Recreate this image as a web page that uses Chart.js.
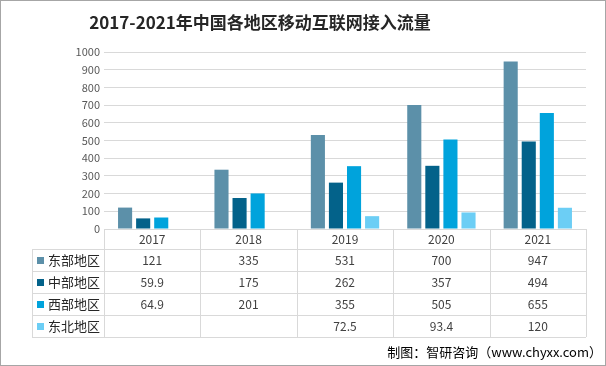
<!DOCTYPE html>
<html>
<head>
<meta charset="utf-8">
<script src="https://cdn.jsdelivr.net/npm/chart.js@4"></script>
<style>
  html, body { margin: 0; padding: 0; background: #fff; }
  #wrap { width: 606px; height: 366px; position: relative; }
</style>
</head>
<body>
<div id="wrap"><canvas id="chart" width="606" height="366"></canvas></div>
<script>
    // Data
    const years = ['2017', '2018', '2019', '2020', '2021'];
    const regionNames = ['东部地区', '中部地区', '西部地区', '东北地区'];
    const eastValues = [121, 335, 531, 700, 947];
    const centralValues = [59.9, 175, 262, 357, 494];
    const westValues = [64.9, 201, 355, 505, 655];
    const northeastValues = [null, null, 72.5, 93.4, 120];
    const regionColors = ['#5C90A9', '#03628A', '#00A3DC', '#6CCEF5'];

    const titleText = '2017-2021年中国各地区移动互联网接入流量';
    const sourceText = '制图：智研咨询（www.chyxx.com）';
    const cjkFont = '"Noto Sans CJK SC", "Noto Sans", sans-serif';
    const gridColor = '#d9d9d9';

    // Title, frame, data table and source note
    const extrasPlugin = {
      id: 'extras',
      afterDraw(chart) {
        const ctx = chart.ctx;
        const xScale = chart.scales.x;
        const area = chart.chartArea;
        ctx.save();

        // frame
        ctx.strokeStyle = '#a6a6a6';
        ctx.lineWidth = 1;
        ctx.strokeRect(0.5, 0.5, chart.width - 1, chart.height - 1);

        // title
        ctx.fillStyle = '#262626';
        ctx.font = 'bold 17px ' + cjkFont;
        ctx.textAlign = 'center';
        ctx.textBaseline = 'middle';
        ctx.fillText(titleText, 260, 23);

        // data table
        const half = (xScale.getPixelForValue(1) - xScale.getPixelForValue(0)) / 2;
        const left = area.left, right = area.right;
        const legendLeft = 32;
        const headTop = area.bottom, headBottom = headTop + 20, rowH = 22;
        const tableBottom = headBottom + rowH * regionNames.length;

        ctx.strokeStyle = gridColor;
        ctx.beginPath();
        ctx.moveTo(left, headTop + 0.5); ctx.lineTo(right, headTop + 0.5);
        for (let r = 0; r <= regionNames.length; r++) {
          const y = Math.round(headBottom + r * rowH) + 0.5;
          ctx.moveTo(legendLeft, y); ctx.lineTo(right, y);
        }
        for (let i = 0; i <= years.length; i++) {
          const x = Math.round(xScale.getPixelForValue(i) - half) + 0.5;
          ctx.moveTo(x, headTop); ctx.lineTo(x, tableBottom);
        }
        ctx.moveTo(legendLeft + 0.5, headBottom); ctx.lineTo(legendLeft + 0.5, tableBottom);
        ctx.stroke();

        ctx.fillStyle = '#404040';
        ctx.font = '12px ' + cjkFont;
        ctx.textAlign = 'center';
        years.forEach((yr, i) => {
          ctx.fillText(yr, xScale.getPixelForValue(i), headTop + 10);
        });

        chart.data.datasets.forEach((ds, r) => {
          const yMid = headBottom + r * rowH + rowH / 2;
          ctx.fillStyle = ds.backgroundColor;
          ctx.fillRect(legendLeft + 5, Math.round(yMid - 3.5), 7, 7);
          ctx.fillStyle = '#262626';
          ctx.font = '13px ' + cjkFont;
          ctx.textAlign = 'left';
          ctx.fillText(ds.label, legendLeft + 16, yMid);
          ctx.fillStyle = '#404040';
          ctx.font = '12px ' + cjkFont;
          ctx.textAlign = 'center';
          ds.data.forEach((v, i) => {
            if (v === null) return;
            ctx.fillText(String(v), xScale.getPixelForValue(i), yMid);
          });
        });

        // source
        ctx.fillStyle = '#000';
        ctx.font = '13px ' + cjkFont;
        ctx.textAlign = 'right';
        ctx.fillText(sourceText, 602, 352);
        ctx.restore();
      }
    };

    const seriesValues = [eastValues, centralValues, westValues, northeastValues];

    new Chart(document.getElementById('chart'), {
      type: 'bar',
      data: {
        labels: years,
        datasets: regionNames.map((name, i) => ({
          label: name,
          data: seriesValues[i],
          backgroundColor: regionColors[i],
          categoryPercentage: 0.75,
          barPercentage: 0.78
        }))
      },
      options: {
        responsive: false,
        animation: false,
        layout: { padding: { left: 0, right: 20, top: 52, bottom: 137 } },
        plugins: {
          legend: { display: false },
          title: { display: false },
          tooltip: { enabled: false }
        },
        scales: {
          x: { display: false },
          y: {
            min: 0,
            max: 1000,
            border: { display: false },
            grid: { color: gridColor, drawTicks: false },
            ticks: {
              stepSize: 100,
              padding: 4,
              color: '#595959',
              font: { size: 11, family: cjkFont },
              callback: v => String(v)
            },
            afterFit(axis) { axis.width = 104; }
          }
        }
      },
      plugins: [extrasPlugin]
    });
</script>
</body>
</html>
